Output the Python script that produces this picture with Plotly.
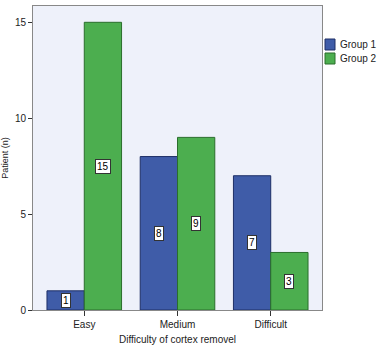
import plotly.graph_objects as go

categories = ["Easy", "Medium", "Difficult"]
group1 = [1, 8, 7]
group2 = [15, 9, 3]
series_names = ["Group 1", "Group 2"]
y_ticks = [0, 5, 10, 15]

blue = "#3f5ca8"
green = "#4cae4f"
edges = ["#1e2f66", "#2a6e2c"]

fig = go.Figure()
fig.add_trace(go.Bar(x=categories, y=group1, name=series_names[0], showlegend=False,
                     marker=dict(color=blue, line=dict(color=edges[0], width=1))))
fig.add_trace(go.Bar(x=categories, y=group2, name=series_names[1], showlegend=False,
                     marker=dict(color=green, line=dict(color=edges[1], width=1))))

for vals, shift in ((group1, -18.5), (group2, 18.5)):
    for c, v in zip(categories, vals):
        fig.add_annotation(x=c, y=v / 2, xref="x", yref="y", text=str(v),
                           showarrow=False, xshift=shift,
                           font=dict(family="Liberation Sans, Arial", size=10, color="black"),
                           bgcolor="white", bordercolor="#333", borderwidth=1, borderpad=1)

# manual legend (placed in the right margin)
leg_items = [(series_names[0], blue, edges[0], 0.8914, 0.8553, 0.8734),
             (series_names[1], green, edges[1], 0.8454, 0.8092, 0.8273)]
for name, col, edge, y1, y0, yt in leg_items:
    fig.add_shape(type="rect", xref="paper", yref="paper", x0=1.0104, x1=1.045,
                  y0=y0, y1=y1, fillcolor=col, line=dict(color=edge, width=1))
    fig.add_annotation(xref="paper", yref="paper", x=1.0554, y=yt, text=name,
                       showarrow=False, xanchor="left", yanchor="middle",
                       font=dict(family="Liberation Sans, Arial", size=10, color="#222"))

fig.update_layout(
    width=381, height=350,
    margin=dict(l=33, r=59, t=6, b=40, autoexpand=False),
    paper_bgcolor="white", plot_bgcolor="#eef1fa",
    barmode="group", bargap=0.2, bargroupgap=0,
    font=dict(family="Liberation Sans, Arial", size=10, color="#222"),
    xaxis=dict(range=[-0.55, 2.55], showline=True, linecolor="#888", mirror=True,
               ticks="outside", ticklen=5, tickcolor="#333",
               title=dict(text="Difficulty of cortex removel", font=dict(size=10), standoff=6),
               tickfont=dict(size=10)),
    yaxis=dict(range=[0, 15.85], tickvals=y_ticks, showgrid=False, zeroline=False,
               showline=True, linecolor="#888", mirror=True,
               ticks="outside", ticklen=4, tickcolor="#333",
               title=dict(text="Patient (n)", font=dict(size=9), standoff=4),
               tickfont=dict(size=10)),
)

fig.write_html("out.html")
